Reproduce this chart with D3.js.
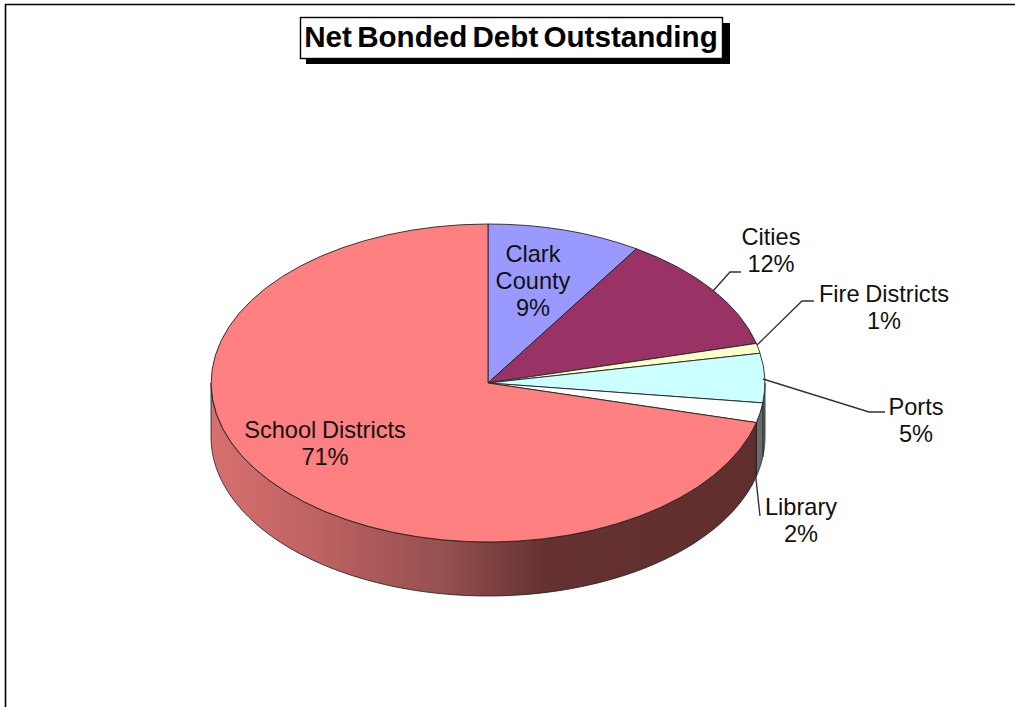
<!DOCTYPE html>
<html>
<head>
<meta charset="utf-8">
<script src="https://cdn.jsdelivr.net/npm/d3@7/dist/d3.min.js"></script>
<style>
  html, body { margin: 0; padding: 0; background: #fff; }
  svg { display: block; font-family: "Liberation Sans", Arial, sans-serif; }
</style>
</head>
<body>
<svg id="chart" width="1015" height="707"></svg>
<script>
const categories = ["Clark County", "Cities", "Fire Districts", "Ports", "Library", "School Districts"];
const shares = [9, 12, 1, 5, 2, 71];
const topColors = ["#9999ff", "#993366", "#ffffcc", "#ccffff", "#ffffff", "#ff8080"];
const wallColors = ["#4d4d80", "#4d1a33", "#808066", "#5f7a7a", "#6b6b6b", "url(#wall)"];
const chartTitle = "Net Bonded Debt Outstanding";

const cx = 488, cy = 383, rx = 277, ry = 159, depth = 54;

const svg = d3.select("#chart");

// Horizontal shading of the large slice's outer wall
const grad = svg.append("defs").append("linearGradient")
  .attr("id", "wall").attr("gradientUnits", "userSpaceOnUse")
  .attr("x1", cx - rx).attr("x2", cx + rx).attr("y1", 0).attr("y2", 0);
[[0, "#d87070"], [0.2, "#bd6161"], [0.42, "#94504f"], [0.6, "#653231"], [1, "#5f2e2d"]]
  .forEach(([o, c]) => grad.append("stop").attr("offset", o).attr("stop-color", c));

// Chart frame: only the top and left edges fall inside the page
svg.append("path").attr("d", "M5.5,707V4.5H1015")
  .attr("fill", "none").attr("stroke", "#000").attr("stroke-width", 1.6);

const slices = d3.pie().sort(null).value(d => d)(shares);

// Angles run clockwise from twelve o'clock, as in d3.arc
const project = (a, drop = 0) => [cx + rx * Math.sin(a), cy - ry * Math.cos(a) + drop];

// Outer walls: only the part of each slice facing the viewer is visible
const wallPath = s => {
  const a0 = Math.max(s.startAngle, Math.PI / 2);
  const a1 = Math.min(s.endAngle, Math.PI * 1.5);
  if (a1 <= a0) return null;
  const steps = d3.range(0, 61).map(i => a0 + (a1 - a0) * i / 60);
  const upper = steps.map(a => project(a));
  const lower = steps.slice().reverse().map(a => project(a, depth));
  return d3.line()(upper.concat(lower)) + "Z";
};

svg.append("g").selectAll("path").data(slices).join("path")
  .attr("d", wallPath)
  .attr("fill", (d, i) => wallColors[i])
  .attr("stroke", "#1a1a1a").attr("stroke-width", 0.8).attr("stroke-linejoin", "round");

// Top faces: a unit-radius d3.arc squashed into an ellipse
const arc = d3.arc().innerRadius(0).outerRadius(1);
svg.append("g").attr("transform", `translate(${cx},${cy}) scale(${rx},${ry})`)
  .selectAll("path").data(slices).join("path")
  .attr("d", arc)
  .attr("fill", (d, i) => topColors[i])
  .attr("stroke", "#222").attr("stroke-width", 0.9)
  .attr("vector-effect", "non-scaling-stroke");

// Leader lines
const leaders = [
  null,
  [[713, 291], [730, 272], [741, 272]],
  [[757, 345], [802, 301], [814, 301]],
  [[763, 379], [869, 412], [885, 412]],
  [[755, 470], [760, 516]],
  null
];
svg.append("g").selectAll("path").data(leaders.filter(Boolean)).join("path")
  .attr("d", d3.line())
  .attr("fill", "none").attr("stroke", "#333").attr("stroke-width", 1.4);

// Slice labels: name line(s), then the share
const nameLines = [["Clark", "County"], ["Cities"], ["Fire Districts"], ["Ports"], ["Library"], ["School Districts"]];
const labelX = [533, 771, 884, 916, 801, 325];
const labelY = [261, 244, 301, 414, 514, 437];
const lineGap = 27;

const labels = svg.append("g").attr("font-size", 23.6).attr("word-spacing", -1)
  .attr("fill", "#111").attr("text-anchor", "middle");
categories.forEach((c, i) => {
  const rows = nameLines[i].concat(`${shares[i]}%`);
  labels.append("text").selectAll("tspan").data(rows).join("tspan")
    .attr("x", labelX[i]).attr("y", (d, k) => labelY[i] + 0.5 + k * lineGap)
    .text(d => d);
});

// Title box with its hard drop shadow
const title = svg.append("g");
title.append("rect").attr("x", 306).attr("y", 23).attr("width", 424).attr("height", 41).attr("fill", "#000");
title.append("rect").attr("x", 300.5).attr("y", 17.5).attr("width", 422).attr("height", 41)
  .attr("fill", "#fff").attr("stroke", "#000").attr("stroke-width", 1.4);
title.append("text").attr("x", 511).attr("y", 47).attr("text-anchor", "middle")
  .attr("font-size", 29.6).attr("word-spacing", -3).attr("font-weight", "bold").attr("fill", "#000").text(chartTitle);
</script>
</body>
</html>
